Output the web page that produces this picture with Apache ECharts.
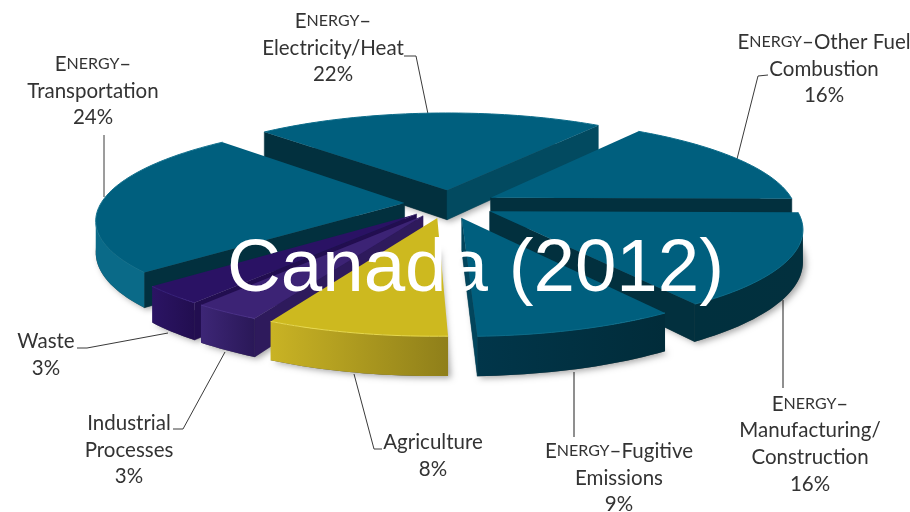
<!DOCTYPE html>
<html><head><meta charset="utf-8">
<style>html,body{margin:0;padding:0;background:#fff}#c{width:910px;height:512px}</style>
<script src="https://cdn.jsdelivr.net/npm/echarts@6/dist/echarts.min.js"></script>
</head><body><div id="c"></div>
<script>
// ---- data (clockwise from the Electricity/Heat slice) ----
const categories = ['Electricity/Heat','Other Fuel Combustion','Manufacturing/Construction','Fugitive Emissions','Agriculture','Industrial Processes','Waste','Transportation'];
const shares = [22,16,16,9,8,3,3,24];
const chartTitle = 'Canada (2012)';

// ---- styles per slice ----
const TEAL='#005f7e', DARK='#02303e';
const topColors   = [TEAL,TEAL,TEAL,TEAL,'#cdb91f','#3c2375','#2a1264',TEAL];
const rimFrom     = ['#024a60','#024a60','#01303e','#01364a','#c9b324','#3d2676','#2b1464','#0a6a88'];
const rimTo       = ['#024a60','#02323f','#02303e','#012c3a','#8f7f1a','#2a1858','#220e50','#0a6a88'];
const wallStart   = [DARK,DARK,DARK,DARK,'#8f7f1a','#2e1a5c','#220e50',DARK];
const wallEnd     = ['#024a60',DARK,DARK,'#02455c','#8f7f1a','#2e1a5c','#220e50',DARK];
const rimLights   = ['#0b6c8a','#0b6c8a','#0b6c8a','#0b6c8a','#e8d94e','#4b3288','#38207a','#14728e'];

// ---- projection of the tilted, exploded pie ----
const CX=450, CY=204, RX=304, RY=94, PERSP=0.163, DEPTH=30.5, EXPLODE=0.15, START=-43, TWIST=1.8;
function project(x,y){const s=1/(1-PERSP*y);return [CX+RX*x*s,CY+RY*y*s,s];}
function lower(p){return [p[0],p[1]+DEPTH*Math.pow(p[2],1.3)];}
const rad=d=>d*Math.PI/180;
const total=shares.reduce((a,b)=>a+b,0);
const spans=[];let acc=START;
shares.forEach(v=>{const d=v/total*360;spans.push([acc,acc+d]);acc+=d;});
// the tilted view pulls the near side of the pie slightly round
const viewAngle=a=>a-TWIST*(1-Math.cos(rad(a)));
function wall(pts,fill){
  const poly=pts.map(p=>p.slice(0,2)).concat(pts.slice().reverse().map(lower));
  return {type:'polygon',shape:{points:poly},style:{fill:fill,stroke:fill,lineWidth:0.5},silent:true};
}
function renderSlice(params,api){
  const i=api.value(1);
  const a0=viewAngle(spans[i][0]),a1=viewAngle(spans[i][1]),mid=rad((spans[i][0]+spans[i][1])/2);
  const ox=Math.sin(mid)*EXPLODE,oy=-Math.cos(mid)*EXPLODE;
  const apex=project(ox,oy);
  const rim=[];const n=Math.max(6,Math.ceil((a1-a0)/1.5));
  for(let k=0;k<=n;k++){const a=rad(a0+(a1-a0)*k/n);rim.push(project(ox+Math.sin(a),oy-Math.cos(a)));}
  const ring=[apex].concat(rim);
  const children=[];
  children.push({type:'polygon',shape:{points:ring.map(lower)},
    style:{fill:'#555',shadowBlur:6,shadowColor:'rgba(0,0,0,0.35)',shadowOffsetX:3,shadowOffsetY:2},silent:true});
  if(apex[0]>rim[0][0]) children.push(wall([apex,rim[0]],wallStart[i]));
  if(rim[n][0]>apex[0]) children.push(wall([rim[n],apex],wallEnd[i]));
  // the outer wall: only the part of the rim running right-to-left faces the viewer
  const vis=[];
  for(let k=0;k<n;k++){ if(rim[k+1][0]<rim[k][0]){ if(!vis.length) vis.push(rim[k]); vis.push(rim[k+1]); } }
  if(vis.length>1){
    const x0=vis[0][0],x1=vis[vis.length-1][0];
    const fill=new echarts.graphic.LinearGradient(x0,0,x1,0,[{offset:0,color:rimTo[i]},{offset:1,color:rimFrom[i]}],true);
    children.push({type:'polygon',shape:{points:vis.map(p=>p.slice(0,2)).concat(vis.slice().reverse().map(lower))},style:{fill:fill},silent:true});
  }
  children.push({type:'polygon',shape:{points:ring.map(p=>p.slice(0,2))},style:{fill:topColors[i]},silent:true});
  children.push({type:'polyline',shape:{points:rim.map(p=>p.slice(0,2))},style:{fill:'none',stroke:rimLights[i],lineWidth:1},silent:true});
  return {type:'group',children};
}
// far slices are painted first
const paintOrder=shares.map((_,i)=>i).sort((p,q)=>
  Math.cos(rad((spans[q][0]+spans[q][1])/2))-Math.cos(rad((spans[p][0]+spans[p][1])/2)));

// ---- annotation text and leader lines ----
const E='{b|E}{s|NERGY}–';
const labelTexts=[
  E+'\n{b|Electricity/Heat}\n{b|22%}',
  E+'{b|Other Fuel}\n{b|Combustion}\n{b|16%}',
  E+'\n{b|Manufacturing/}\n{b|Construction}\n{b|16%}',
  E+'{b|Fugitive}\n{b|Emissions}\n{b|9%}',
  '{b|Agriculture}\n{b|8%}',
  '{b|Industrial}\n{b|Processes}\n{b|3%}',
  '{b|Waste}\n{b|3%}',
  E+'\n{b|Transportation}\n{b|24%}'
];
const labelCenters=[[333,48],[824,69],[810,444],[619,478],[433,456],[129,450],[46,355],[93,91]];
const leaders=[
  [[404,56],[416,56],[428,114]],
  [[768,75],[758,76],[737,159]],
  [[783,300],[783,388]],
  [[574,372],[574,437]],
  [[382,449],[374,449],[354,374]],
  [[173,429],[183,429],[225,352]],
  [[77,348],[87,348],[168,333]],
  [[104,135],[104,197]]
];
const leaderColors=['#3a3a3a','#3a3a3a','#6a6a6a','#6a6a6a','#3a3a3a','#3a3a3a','#3a3a3a','#3a3a3a'];
const leaderWidths=[1,1,1.5,1.5,1,1,1,1];
const FONT='Lato, "Open Sans", sans-serif';
const graphics=[];
labelTexts.forEach((t,i)=>{
  graphics.push({type:'text',x:labelCenters[i][0],y:labelCenters[i][1],silent:true,z:5,
    style:{text:t,align:'center',verticalAlign:'middle',font:'20.5px '+FONT,fill:'#333',lineHeight:26.7,
      rich:{b:{fontFamily:FONT,fontSize:20.5,fill:'#333',color:'#333',lineHeight:26.7},
            s:{fontFamily:FONT,fontSize:16,fill:'#333',color:'#333',lineHeight:26.7}}}});
  graphics.push({type:'polyline',shape:{points:leaders[i]},silent:true,z:1,style:{fill:'none',stroke:leaderColors[i],lineWidth:leaderWidths[i]}});
});

const chart=echarts.init(document.getElementById('c'),null,{renderer:'canvas'});
chart.setOption({
  animation:false,
  backgroundColor:'#fff',
  title:{text:chartTitle,left:227,top:233,z:20,padding:0,
    textStyle:{color:'#fff',fontFamily:'"Liberation Sans", Arial, sans-serif',fontSize:74.5,fontWeight:'normal'}},
  graphic:graphics,
  series:[{type:'custom',coordinateSystem:'none',z:3,renderItem:renderSlice,
    data:paintOrder.map(i=>({name:categories[i],value:[shares[i],i]}))}]
});
</script></body></html>
